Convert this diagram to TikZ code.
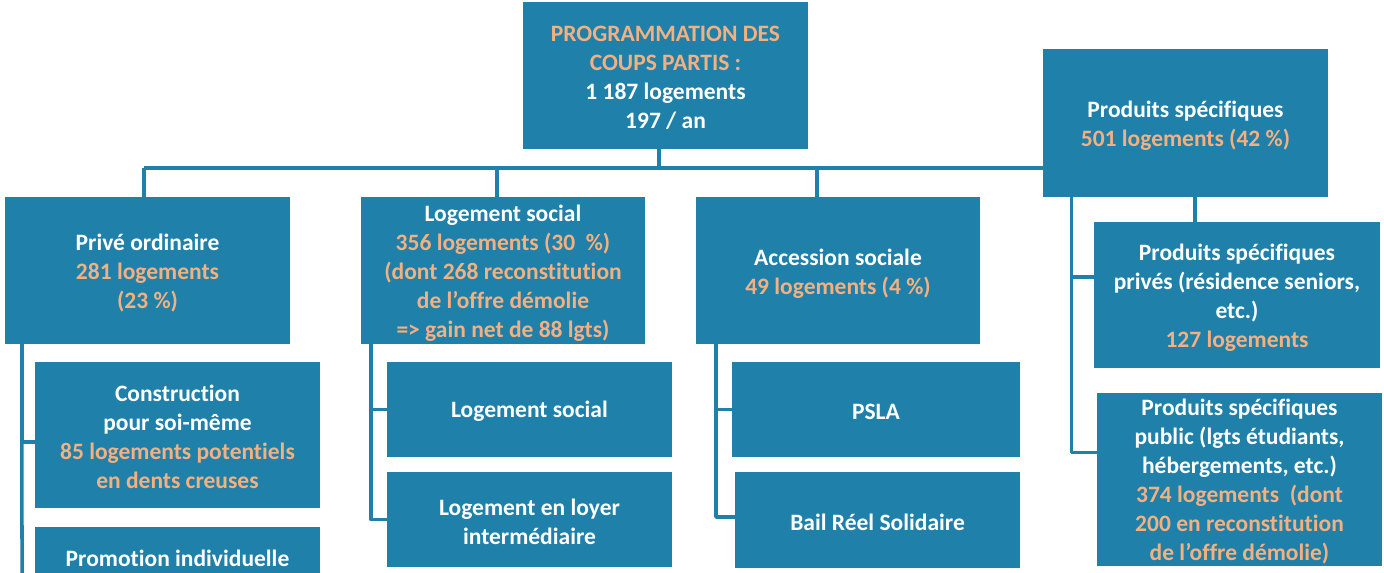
\documentclass[tikz,border=0pt]{standalone}
\usepackage{fontspec}
\setmainfont{Carlito}[Ligatures={ResetAll,NoCommon}]
\definecolor{boxblue}{RGB}{31,128,170}
\definecolor{peach}{RGB}{243,176,128}
\tikzset{
  box/.style={rectangle, fill=boxblue, draw=none, inner sep=0pt},
  txt/.style={inner sep=0pt, text=white, align=center,
    font=\bfseries\fontsize{23.5bp}{29bp}\selectfont},
  conn/.style={draw=boxblue, line width=3.5bp, line join=round}
}
\newcommand{\pch}[1]{\textcolor{peach}{#1}}
\begin{document}
\begin{tikzpicture}[x=1bp,y=-1bp]
\clip (0,0) rectangle (1384,573);
\fill[white] (0,0) rectangle (1384,573);
% boxes
\node[box, minimum width=285bp, minimum height=147bp] (root) at (665.5,75.5) {};
\node[box, minimum width=285bp, minimum height=147bp] (prive) at (147.5,270.5) {};
\node[box, minimum width=284bp, minimum height=147bp] (ls) at (503,270.5) {};
\node[box, minimum width=284bp, minimum height=147bp] (acc) at (838,270.5) {};
\node[box, minimum width=285bp, minimum height=148bp] (ps) at (1185.5,123) {};
\node[box, minimum width=286bp, minimum height=146bp] (psprive) at (1237,295) {};
\node[box, minimum width=285bp, minimum height=173bp] (pspublic) at (1239.5,479.5) {};
\node[box, minimum width=285bp, minimum height=146bp] (cons) at (177.5,435) {};
\node[box, minimum width=285bp, minimum height=160bp] (promo) at (177.5,607) {};
\node[box, minimum width=285bp, minimum height=95bp] (lss) at (529.5,409.5) {};
\node[box, minimum width=285bp, minimum height=95bp] (lli) at (529.5,519.5) {};
\node[box, minimum width=288bp, minimum height=95bp] (psla) at (876,409.5) {};
\node[box, minimum width=285bp, minimum height=96bp] (brs) at (877.5,520) {};
% texts
\node[txt] (troot) at ([yshift=-2bp]root.center)
  {\pch{PROGRAMMATION DES}\\ \pch{COUPS PARTIS :}\\ 1 187 logements\\ 197 / an};
\node[txt] (tprive) at ([yshift=-3bp]prive.center)
  {Privé ordinaire\\ \pch{281 logements}\\ \pch{(23 \%)}};
\node[txt] (tls) at ([yshift=-3bp]ls.center)
  {Logement social\\ \pch{356 logements (30~~\%)}\\ \pch{(dont 268 reconstitution}\\ \pch{de l'offre démolie}\\ \pch{=> gain net de 88 lgts)}};
\node[txt] (tacc) at ([yshift=-3bp]acc.center)
  {Accession sociale\\ \pch{49 logements (4 \%)}};
\node[txt] (tps) at ([yshift=-3bp]ps.center)
  {Produits spécifiques\\ \pch{501 logements (42 \%)}};
\node[txt] (tpsprive) at ([yshift=-3bp]psprive.center)
  {Produits spécifiques\\ privés (résidence seniors,\\ etc.)\\ \pch{127 logements}};
\node[txt] (tpspublic) at ([yshift=-2bp]pspublic.center)
  {Produits spécifiques\\ public (lgts étudiants,\\ hébergements, etc.)\\ \pch{374 logements~~(dont}\\ \pch{200 en reconstitution}\\ \pch{de l'offre démolie)}};
\node[txt] (tcons) at ([yshift=-2bp]cons.center)
  {Construction\\ pour soi-même\\ \pch{85 logements potentiels}\\ \pch{en dents creuses}};
\node[txt] (tpromo) at (177.5,558) {Promotion individuelle};
\node[txt] (tlss) at ([yshift=-2bp]lss.center) {Logement social};
\node[txt] (tlli) at ([yshift=-2bp]lli.center) {Logement en loyer\\ intermédiaire};
\node[txt] (tpsla) at ([yshift=-2bp]psla.center) {PSLA};
\node[txt] (tbrs) at ([yshift=-2bp]brs.center) {Bail Réel Solidaire};
% coordinates
\coordinate (bus) at (144,168);
\coordinate (pend) at (22,590);
% connectors
\draw[conn] ([xshift=-6.5bp]root.south) -- ([xshift=-6.5bp]root.south |- bus);
\draw[conn] (bus) -- (ps.west |- bus);
\draw[conn] (bus) -- (bus |- prive.north);
\draw[conn] ([xshift=-6bp]ls.north |- bus) -- ([xshift=-6bp]ls.north);
\draw[conn] ([xshift=-21bp]acc.north |- bus) -- ([xshift=-21bp]acc.north);
\draw[conn] ([xshift=9.5bp]ps.south) -- ([xshift=9.5bp]ps.south |- psprive.north);
\draw[conn] ([xshift=-114bp]ps.south) |- ([yshift=18bp]psprive.west);
\draw[conn] ([xshift=-114bp]ps.south) |- ([yshift=27bp]pspublic.west);
\draw[conn] ([xshift=-125.5bp]prive.south) -- (pend);
\draw[conn] ([xshift=-125.5bp]prive.south) |- ([yshift=-7bp]cons.west);
\draw[conn] ([xshift=-132bp]ls.south) |- (lss.west);
\draw[conn] ([xshift=-132bp]ls.south) |- (lli.west);
\draw[conn] ([xshift=-122bp]acc.south) |- (psla.west);
\draw[conn] ([xshift=-122bp]acc.south) |- ([yshift=3bp]brs.west);
\end{tikzpicture}
\end{document}
